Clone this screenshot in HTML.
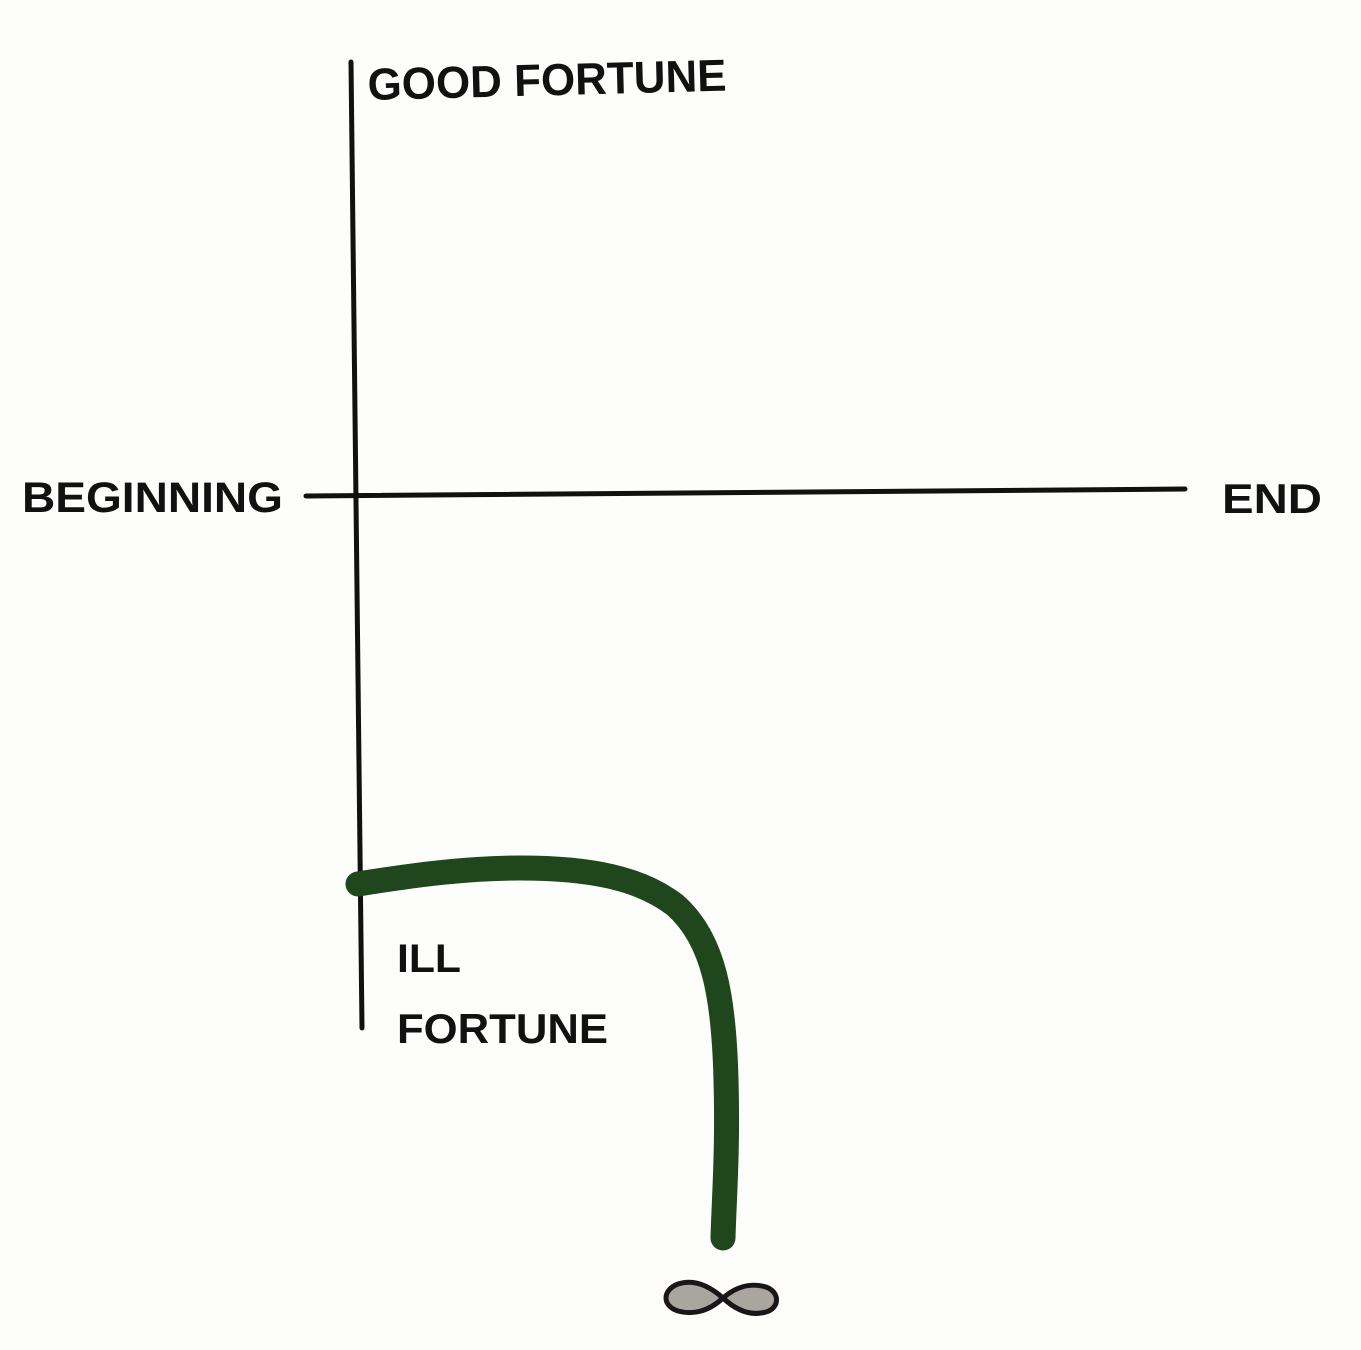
<!DOCTYPE html>
<html>
<head>
<meta charset="utf-8">
<style>
html,body{margin:0;padding:0;background:#fff;}
svg{display:block;}
text{font-family:"Liberation Sans",Arial,sans-serif;font-weight:bold;fill:#111;}
</style>
</head>
<body>
<svg width="1361" height="1350" viewBox="0 0 1361 1350" xmlns="http://www.w3.org/2000/svg">
  <rect width="1361" height="1350" fill="#fdfdfc"/>
  <line x1="351" y1="62" x2="362" y2="1028" stroke="#111" stroke-width="5" stroke-linecap="round"/>
  <line x1="306" y1="496" x2="1185" y2="489" stroke="#111" stroke-width="5" stroke-linecap="round"/>
  <path d="M358,884 C420,874 470,868 520,868 C590,868 640,878 675,905 C715,940 724,1000 726,1080 C728,1150 724,1200 723,1238"
        fill="none" stroke="#1f461c" stroke-width="25" stroke-linecap="round"/>
  <path d="M723,1298 C705,1282 690,1280 678,1284 C662,1290 662,1306 678,1311 C692,1315 708,1312 723,1298 C738,1285 752,1283 766,1287 C780,1292 780,1308 766,1312 C752,1316 738,1312 723,1298 Z"
        fill="#a9a6a0" stroke="#1a1518" stroke-width="5" stroke-linejoin="round"/>
  <text x="368" y="100" font-size="45" textLength="359" lengthAdjust="spacingAndGlyphs" transform="rotate(-1.5 368 100)">GOOD FORTUNE</text>
  <text x="22" y="512" font-size="43" textLength="261" lengthAdjust="spacingAndGlyphs">BEGINNING</text>
  <text x="1222" y="513" font-size="42" textLength="100" lengthAdjust="spacingAndGlyphs">END</text>
  <text x="397" y="972" font-size="40" textLength="64" lengthAdjust="spacingAndGlyphs">ILL</text>
  <text x="397" y="1043" font-size="42" textLength="211" lengthAdjust="spacingAndGlyphs">FORTUNE</text>
</svg>
</body>
</html>
